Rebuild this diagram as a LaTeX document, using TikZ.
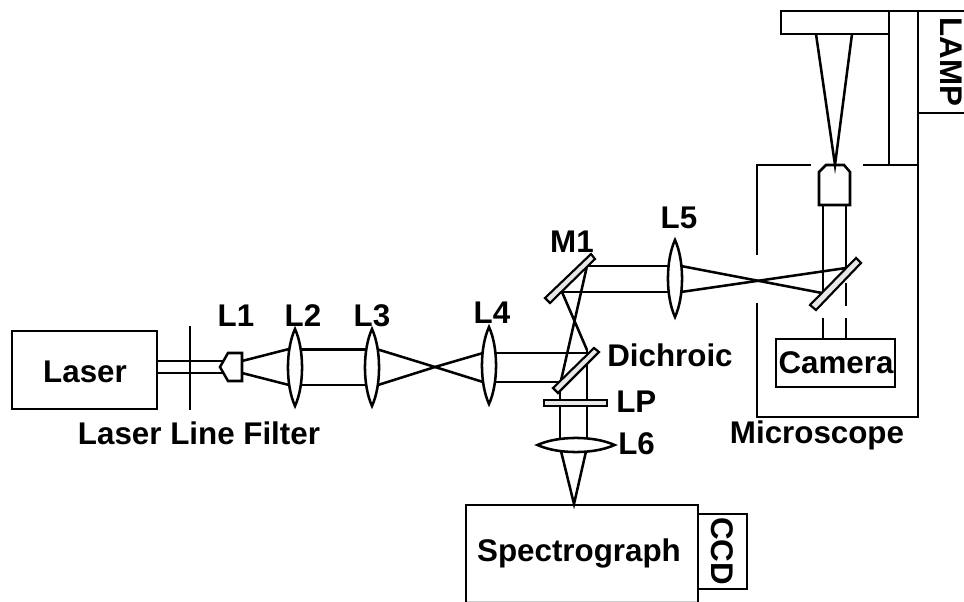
\documentclass[tikz,border=0pt]{standalone}
\usepackage{fontspec}
\setmainfont{Liberation Sans}
\tikzset{
  every picture/.style={x=0.75pt,y=-0.75pt},
  ln/.style={line width=1.9pt,black,line join=miter},
  beam/.style={ln},
  mirror/.style={ln,fill=gray!18,line width=1.6pt},
  lbl/.style={font=\bfseries\fontsize{23.5}{25}\selectfont,inner sep=0pt,text=black},
  pics/lens/.style={code={\draw[ln,fill=white] (0,-38.5) .. controls (9.4,-18) and (9.4,18) .. (0,38.5) .. controls (-9.4,18) and (-9.4,-18) .. cycle;}}
}
\begin{document}
\begin{tikzpicture}
\useasboundingbox (0,0) rectangle (964,602);
% Laser section
\draw[ln] (12,331) rectangle (157,409);
\draw[beam] (157,361) -- (224,361) (157,373) -- (224,373);
\draw[ln] (190,326) -- (190,410);
\draw[ln,fill=white] (220,367) -- (228,353) -- (242,353) -- (242,381) -- (228,381) -- cycle;
\draw[beam] (242,361) -- (289,349) (242,373) -- (289,385);
\draw[beam] (295,349.5) -- (372,349.5) (295,385) -- (372,385);
\draw[beam] (378,349.5) -- (435,367) -- (483,382);
\draw[beam] (378,385) -- (435,367) -- (483,353);
\draw[beam] (489,353) -- (587,353) (489,382) -- (560,382);
% Folded path between dichroic and M1
\draw[beam] (587,266) -- (560,385);
\draw[beam] (562,292) -- (587,350);
\draw[beam] (587,266) -- (675,266) (562,292) -- (675,292);
\draw[beam] (560,385) -- (560,447) (587,350) -- (587,447);
\draw[beam] (560,447) -- (574,504) -- (587,447);
% L5 to microscope
\draw[beam] (681,266) -- (822,293);
\draw[beam] (681,292) -- (846,268);
\pic at (295,367.5) {lens};
\pic at (372,367.5) {lens};
\pic at (489,365.5) {lens};
\pic at (675,278.5) {lens};
\pic[rotate=90] at (576,445) {lens};
\draw[mirror] (594,348) -- (599,352) -- (558,393) -- (553,388) -- cycle;
\draw[mirror] (591,254) -- (595,259) -- (550,303) -- (545,298) -- cycle;
\draw[mirror] (544,400) rectangle (607,406);
% Spectrograph and CCD
\draw[gray!40,line width=1pt] (466,601.3) -- (698,601.3);
\draw[ln] (466,602) -- (466,505) -- (698,505) -- (698,602);
\draw[ln] (698,514) -- (747,514) -- (747,589) -- (698,589);
% Microscope
\draw[ln] (964,11) -- (781,11) -- (781,34) -- (889,34);
\draw[ln] (889,11) -- (889,165);
\draw[ln] (918,11) -- (918,417) -- (757,417) -- (757,303);
\draw[ln] (918,113) -- (964,113);
\draw[ln] (757,255) -- (757,165) -- (811,165);
\draw[ln] (863,165) -- (918,165);
\draw[beam] (816,34) -- (835,165) -- (852,34);
\draw[ln] (819,172) -- (826,165) -- (844,165) -- (850,172) -- (850,205) -- (819,205) -- cycle;
\draw[beam] (823,205) -- (823,293) (846,205) -- (846,268);
\draw[mirror] (856,258) -- (861,263) -- (816,310) -- (810,305) -- cycle;
\draw[beam] (846,283) -- (846,306) (846,318) -- (846,339) (823,318) -- (823,339);
\draw[ln] (776,339) rectangle (895,387);
% Labels
\node[lbl] (laser) at (85,372) {Laser};
\node[lbl] (llf) at (199,433) {Laser Line Filter};
\node[lbl] (l1) at (236,316) {L1};
\node[lbl] (l2) at (303,316) {L2};
\node[lbl] (l3) at (372,316) {L3};
\node[lbl] (l4) at (492,313) {L4};
\node[lbl] (m1) at (572,242) {M1};
\node[lbl] (l5) at (679,218) {L5};
\node[lbl,anchor=west] (di) at (607,355) {Dichroic};
\node[lbl,anchor=west] (lp) at (616,402) {LP};
\node[lbl,anchor=west] (l6) at (618,444) {L6};
\node[lbl] (sp) at (579,553) {Spectrograph};
\node[lbl,rotate=-90] (ccd) at (722,551) {CCD};
\node[lbl] (cam) at (836,363) {Camera};
\node[lbl] (mic) at (817,435) {Microscope};
\node[lbl,rotate=-90] (lamp) at (951,62) {LAMP};
\end{tikzpicture}
\end{document}
